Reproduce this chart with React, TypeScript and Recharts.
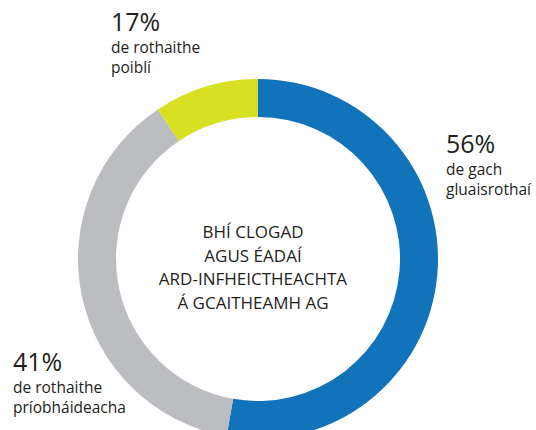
import React from 'react';
import { PieChart, Pie, Cell } from 'recharts';

const categories = ['de gach gluaisrothaí', 'de rothaithe príobháideacha', 'de rothaithe poiblí'];
const sliceShares = [52.8, 37.8, 9.4];
const percentLabels = ['56%', '41%', '17%'];
const labelLines = [
  ['de gach', 'gluaisrothaí'],
  ['de rothaithe', 'príobháideacha'],
  ['de rothaithe', 'poiblí'],
];
const centerLines = ['BHÍ CLOGAD', 'AGUS ÉADAÍ', 'ARD-INFHEICTHEACHTA', 'Á GCAITHEAMH AG'];
const colors = ['#1174BB', '#BCBDC0', '#D7E022'];

const data = categories.map((name, i) => ({ name, value: sliceShares[i] }));

// label anchor positions (x, baseline of percent)
const labelPos = [
  { x: 446, y: 153 },
  { x: 13, y: 371 },
  { x: 111, y: 31 },
];

const FONT = '"Open Sans", "Noto Sans", sans-serif';
const TEXT = '#231F20';

export default function App() {
  return (
    <div style={{ position: 'absolute', left: 0, top: 0, width: 536, height: 430, background: '#fff' }}>
      <PieChart width={536} height={430}>
        <Pie
          data={data}
          dataKey="value"
          nameKey="name"
          cx={253}
          cy={254}
          innerRadius={142}
          outerRadius={180}
          startAngle={90}
          endAngle={-270}
          stroke="none"
          isAnimationActive={false}
        >
          {data.map((d, i) => (
            <Cell key={d.name} fill={colors[i]} />
          ))}
        </Pie>
      </PieChart>
      <svg
        width={536}
        height={430}
        style={{ position: 'absolute', left: 0, top: 0, pointerEvents: 'none' }}
      >
        {percentLabels.map((p, i) => (
          <g key={p} fontFamily={FONT} fill={TEXT}>
            <text x={labelPos[i].x} y={labelPos[i].y} fontSize={25}>
              {p}
            </text>
            {labelLines[i].map((l, j) => (
              <text key={l} x={labelPos[i].x} y={labelPos[i].y + 22 + j * 20} fontSize={15.5}>
                {l}
              </text>
            ))}
          </g>
        ))}
        {centerLines.map((l, j) => (
          <text
            key={l}
            x={253}
            y={238 + j * 23.5}
            textAnchor="middle"
            fontFamily={FONT}
            fontSize={17}
            fill={TEXT}
          >
            {l}
          </text>
        ))}
      </svg>
    </div>
  );
}
